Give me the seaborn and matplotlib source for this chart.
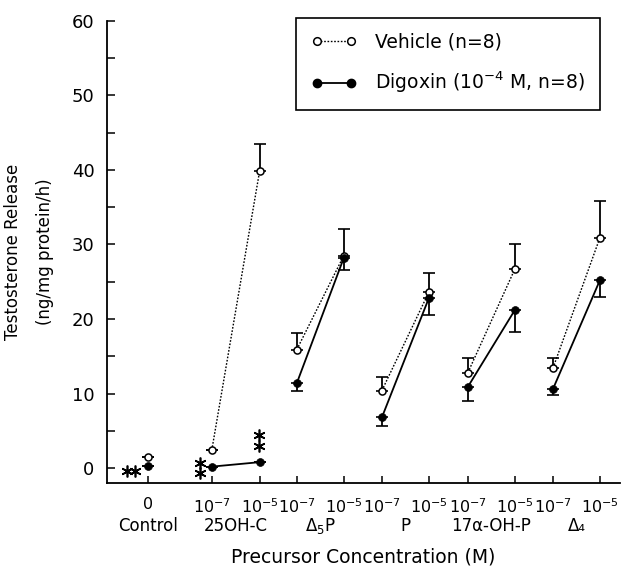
import matplotlib
matplotlib.use("Agg")
import matplotlib.pyplot as plt
import matplotlib.transforms as mtransforms
import numpy as np
import pandas as pd
import seaborn as sns

# ---- data ----
groups = ["Control", "25OH-C", "$\\Delta_5$P", "P", "17\u03b1-OH-P", "\u0394\u2084"]
group_of_point = [0, 1, 1, 2, 2, 3, 3, 4, 4, 5, 5]
x_pos = [0, 1.36, 2.38, 3.17, 4.17, 4.98, 5.98, 6.81, 7.81, 8.62, 9.62]
x_ticklabels = ["0", "$10^{-7}$", "$10^{-5}$", "$10^{-7}$", "$10^{-5}$", "$10^{-7}$",
                "$10^{-5}$", "$10^{-7}$", "$10^{-5}$", "$10^{-7}$", "$10^{-5}$"]

vehicle = [1.5, 2.4, 39.9, 15.9, 28.5, 10.4, 23.6, 12.8, 26.7, 13.4, 30.9]
vehicle_err = [0, 0, 3.6, 2.2, 3.5, 1.8, 2.6, 2.0, 3.3, 1.4, 4.9]
digoxin = [0.3, 0.2, 0.8, 11.4, 28.2, 6.8, 22.8, 10.9, 21.2, 10.6, 25.2]
digoxin_err = [0, 0, 0, 1.1, 1.7, 1.1, 2.3, 1.9, 3.0, 0.8, 2.3]

# significance stars (x, y)
stars = [(-0.45, -0.4), (-0.27, -0.4), (1.1, 0.7), (1.1, -0.7), (2.36, 4.4), (2.36, 3.0)]

df = pd.DataFrame({"x": x_pos, "group": group_of_point,
                   "vehicle": vehicle, "vehicle_err": vehicle_err,
                   "digoxin": digoxin, "digoxin_err": digoxin_err})

sns.set_style("ticks")
plt.rcParams["font.family"] = ["DejaVu Sans"]
plt.rcParams["xtick.direction"] = "in"
plt.rcParams["ytick.direction"] = "in"
plt.rcParams["text.color"] = "black"
plt.rcParams["axes.labelcolor"] = "black"

fig = plt.figure(figsize=(6.22, 5.73), dpi=100)
ax = fig.add_axes([0.172, 0.157, 0.825, 0.807])

# connecting lines within each precursor group (control stays alone)
for g, sub in df.groupby("group"):
    if g == 0:
        continue
    sns.lineplot(data=sub, x="x", y="vehicle", ax=ax, color="black", lw=1.0,
                 linestyle=(0, (1.2, 1.2)), estimator=None, sort=False)
    sns.lineplot(data=sub, x="x", y="digoxin", ax=ax, color="black", lw=1.3,
                 estimator=None, sort=False)

# one-sided error bars
zeros = np.zeros(len(df))
ax.errorbar(df["x"], df["vehicle"], yerr=[zeros, df["vehicle_err"]], fmt="none",
            ecolor="black", elinewidth=1.3, capsize=4, capthick=1.2, zorder=2)
ax.errorbar(df["x"], df["digoxin"], yerr=[df["digoxin_err"], zeros], fmt="none",
            ecolor="black", elinewidth=1.3, capsize=4, capthick=1.2, zorder=2)

sns.scatterplot(data=df, x="x", y="vehicle", ax=ax, marker="o", s=26,
                facecolor="white", edgecolor="black", linewidth=1.1, zorder=4)
sns.scatterplot(data=df, x="x", y="digoxin", ax=ax, marker="o", s=32,
                color="black", edgecolor="black", linewidth=0.5, zorder=5)

for sx, sy in stars:
    ax.plot(sx, sy, marker=(6, 2, 0), ms=8.5, color="black", mew=1.2, ls="none")

ax.set_xlim(-0.87, 10.05)
ax.set_ylim(-2, 60)
ax.set_yticks(range(0, 61, 10))
ax.set_yticks(range(5, 60, 10), minor=True)
ax.set_xticks(x_pos)
ax.set_xticklabels(x_ticklabels)
ax.tick_params(axis="both", which="both", direction="in", width=1.1, colors="black")
ax.tick_params(axis="y", which="major", length=6, labelsize=13, pad=9)
ax.tick_params(axis="y", which="minor", length=6)
ax.tick_params(axis="x", which="major", length=5, labelsize=11.5, pad=10)
sns.despine(ax=ax)
for sp in ["left", "bottom"]:
    ax.spines[sp].set_linewidth(1.3)
    ax.spines[sp].set_color("black")

ax.set_xlabel("Precursor Concentration (M)", fontsize=13.5, labelpad=23)
ax.set_ylabel("Testosterone Release\n(ng/mg protein/h)", fontsize=12,
              labelpad=13, linespacing=1.95)

trans = mtransforms.blended_transform_factory(ax.transData, ax.transAxes)
for i, name in enumerate(groups):
    xs = [x_pos[j] for j in range(len(x_pos)) if group_of_point[j] == i]
    ax.text(np.mean(xs), -0.092, name, transform=trans, ha="center", va="center",
            fontsize=12)

# legend
h1, = ax.plot([], [], color="black", lw=1.0, linestyle=(0, (1.2, 1.2)), marker="o",
              ms=5.5, mfc="white", mec="black", mew=1.1)
h2, = ax.plot([], [], color="black", lw=1.3, marker="o", ms=6, mfc="black", mec="black")
leg = ax.legend([h1, h2], ["Vehicle (n=8)", "Digoxin (10$^{-4}$ M, n=8)"],
                loc="upper right", bbox_to_anchor=(0.96, 1.006), numpoints=2,
                handlelength=2.4, fontsize=13.5, labelspacing=0.95, borderpad=0.8,
                handletextpad=1.0, frameon=True, fancybox=False, framealpha=1,
                edgecolor="black", borderaxespad=0)
leg.get_frame().set_linewidth(1.2)

fig.savefig("out.png", dpi=100)
